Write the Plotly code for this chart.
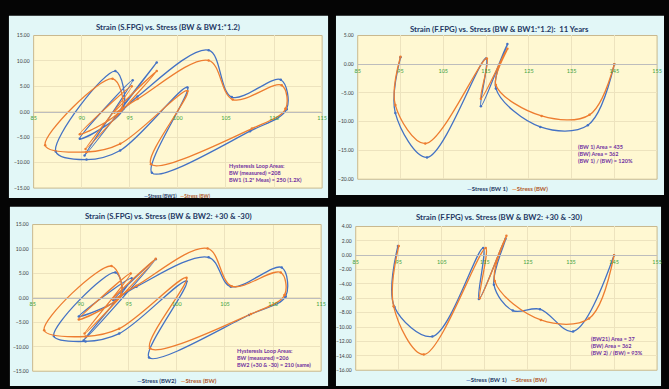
import plotly.graph_objects as go

W, H = 669, 389

# ---------------- data ----------------
stress_ticks_s = [85, 90, 95, 100, 105, 110, 115]
stress_ticks_f = [85, 95, 105, 115, 125, 135, 145, 155]

# S.FPG loop, BW1 (1.2 x measured)
s_bw1_x = [111.3, 107.5, 97.3, 101.0, 94.0, 90.5, 87.3, 93.5, 94.3, 89.8, 95.3, 90.3, 97.8, 93.5, 95.8, 103.2, 105.6, 110.7, 111.3]
s_bw1_y = [0.5, -3.8, -12.0, 4.8, -7.6, -9.4, -7.8, 8.0, 0.5, -5.3, 6.2, -8.6, 9.7, -1.0, 3.0, 12.1, 2.9, 6.3, 0.5]

# S.FPG loop, BW (measured)
s_bw_x = [111.2, 107.7, 97.2, 101.0, 94.0, 90.5, 86.2, 93.2, 94.2, 89.8, 95.2, 90.4, 97.8, 93.4, 95.8, 103.2, 105.7, 110.8, 111.2]
s_bw_y = [0.6, -3.3, -10.3, 4.1, -6.3, -7.9, -6.6, 6.5, 0.8, -4.4, 5.0, -7.3, 8.0, -0.2, 2.5, 10.1, 2.4, 5.2, 0.6]

# S.FPG loop, BW2 (+30 & -30)
s_bw2_x = [111.3, 107.5, 97.1, 101.0, 94.0, 90.5, 87.2, 93.6, 94.2, 89.8, 95.3, 90.3, 97.8, 93.4, 95.8, 103.3, 105.6, 110.9, 111.3]
s_bw2_y = [0.3, -3.5, -12.2, 3.4, -7.3, -8.9, -7.8, 5.2, 0.5, -3.8, 4.0, -8.7, 7.9, -0.5, 2.3, 8.3, 2.3, 6.2, 0.3]

# F.FPG curve, BW (measured)
f_bw_x = [95.0, 93.8, 100.8, 115.2, 113.8, 120.0, 117.3, 128.0, 139.2, 145.0]
f_bw_y = [1.3, -7.1, -13.8, 1.0, -6.0, 2.7, -3.6, -9.0, -8.8, 0.0]

# F.FPG curve, BW1 (1.2 x measured)
f_bw1_x = [95.0, 93.8, 101.2, 115.0, 113.8, 120.0, 117.3, 127.7, 138.8, 145.0]
f_bw1_y = [1.2, -8.5, -16.2, 1.0, -7.3, 3.5, -4.2, -10.9, -10.6, 0.0]

# F.FPG curve, BW2 (+30 & -30)
f_bw2_x = [94.8, 94.0, 102.8, 114.6, 113.6, 119.8, 117.1, 121.5, 127.8, 135.5, 145.0]
f_bw2_y = [1.3, -7.2, -11.3, 1.0, -6.1, 2.3, -4.1, -7.7, -7.5, -10.6, 0.0]

titles = [
    "Strain (S.FPG) vs. Stress (BW & BW1:*1.2)",
    "Strain (F.FPG) vs. Stress (BW & BW1:*1.2):  11 Years",
    "Strain (S.FPG) vs. Stress (BW & BW2: +30 & -30)",
    "Strain (F.FPG) vs. Stress (BW & BW2: +30 & -30)",
]
notes = [
    ["Hysteresis Loop Areas:", "BW (measured) =208", "BW1 (1.2* Meas) = 250 (1.2X)"],
    ["(BW 1) Area = 435", "(BW) Area = 362", "(BW 1) / (BW) = 120%"],
    ["Hysteresis Loop Areas:", "BW (measured) =206", "BW2 (+30 & -30) = 210 (same)"],
    ["(BW21) Area = 37", "(BW) Area = 362", "(BW 2) / (BW) = 93%"],
]
series_names = [
    ("Stress (BW1)", "Stress (BW)"),
    ("Stress (BW 1)", "Stress (BW)"),
    ("Stress (BW2)", "Stress (BW)"),
    ("Stress (BW 1)", "Stress (BW)"),
]

# ---------------- styling / layout ----------------
BLUE = "#4472C4"
ORANGE = "#ED7D31"
PANEL = "#E2F7F7"
PLOTBG = "#FFF8D2"
BORDER = "#C9B98E"
GRID = "#EDE3BE"
GREEN = "#3DA23D"
NAVY = "#1F3864"
PURPLE = "#7030A0"
FONT = "Lato"

# pixel boxes: panel (l, t, r, b), plot area (l, t, r, b)
boxes = [
    dict(panel=(6, 13, 329, 198), plot=(31, 33, 323, 188), title_y=24, note=(227, 173), legend_y=196, legend_size=5),
    dict(panel=(337, 13, 669, 195), plot=(359, 33, 662, 179), title_y=26, note=(580, 153), legend_y=188, legend_size=6),
    dict(panel=(7, 207, 329, 389), plot=(30, 225, 322, 374), title_y=216, note=(235, 361), legend_y=383, legend_size=6),
    dict(panel=(337, 207, 666, 389), plot=(357, 227, 662, 373), title_y=217, note=(593, 348), legend_y=382, legend_size=6),
]

panel_series = [
    ((s_bw1_x, s_bw1_y), (s_bw_x, s_bw_y), stress_ticks_s, (-15, 15), 5),
    ((f_bw1_x, f_bw1_y), (f_bw_x, f_bw_y), stress_ticks_f, (-20, 5), 5),
    ((s_bw2_x, s_bw2_y), (s_bw_x, s_bw_y), stress_ticks_s, (-15, 15), 5),
    ((f_bw2_x, f_bw2_y), (f_bw_x, f_bw_y), stress_ticks_f, (-16, 4), 2),
]

fig = go.Figure()
shapes = []
annotations = []
layout_axes = {}

for i, (box, (blue, orange, xt, yr, ydt)) in enumerate(zip(boxes, panel_series), start=1):
    xa = "x" if i == 1 else f"x{i}"
    ya = "y" if i == 1 else f"y{i}"
    pl, pt, pr, pb = box["plot"]
    xdom = [pl / W, pr / W]
    ydom = [1 - pb / H, 1 - pt / H]
    zero_pos = ydom[0] + (0 - yr[0]) / (yr[1] - yr[0]) * (ydom[1] - ydom[0])

    for (xs, ys), col, nm in ((blue, BLUE, series_names[i - 1][0]), (orange, ORANGE, series_names[i - 1][1])):
        fig.add_trace(go.Scatter(
            x=xs, y=ys, xaxis=xa, yaxis=ya, name=nm, showlegend=False,
            mode="lines+markers",
            line=dict(color=col, width=1.3, shape="spline", smoothing=1.0),
            marker=dict(color=col, size=2.5),
        ))

    layout_axes["xaxis" if i == 1 else f"xaxis{i}"] = dict(
        domain=xdom, range=[xt[0], xt[-1]], anchor="free", position=zero_pos,
        tickvals=xt, ticktext=[str(v) for v in xt], ticks="",
        tickfont=dict(size=5.5, color=GREEN, family=FONT),
        showgrid=True, gridcolor=GRID, gridwidth=0.8, zeroline=False,
        showline=True, linecolor="#BDBDBD", linewidth=1, ticklabelstandoff=1,
    )
    layout_axes["yaxis" if i == 1 else f"yaxis{i}"] = dict(
        domain=ydom, range=list(yr), anchor=xa, dtick=ydt, tick0=yr[0],
        tickformat=".2f", ticks="", tickfont=dict(size=5, color="#404040", family=FONT),
        showgrid=True, gridcolor=GRID, gridwidth=0.8, zeroline=False, showline=False,
        ticklabelstandoff=3,
    )

    l, t, r, b = box["panel"]
    shapes.append(dict(type="rect", xref="paper", yref="paper", x0=l / W, x1=r / W,
                       y0=1 - b / H, y1=1 - t / H, fillcolor=PANEL, line=dict(width=0), layer="below"))
    shapes.append(dict(type="rect", xref=f"{xa} domain", yref=f"{ya} domain", x0=0, x1=1, y0=0, y1=1,
                       fillcolor=PLOTBG, line=dict(color=BORDER, width=1), layer="below"))

    annotations.append(dict(
        text=f"<b>{titles[i - 1]}</b>", xref="paper", yref="paper",
        x=(l + r) / 2 / W, y=1 - box["title_y"] / H, xanchor="center", yanchor="middle",
        showarrow=False, font=dict(size=7.8, color=NAVY, family=FONT),
    ))
    nx, ny = box["note"]
    annotations.append(dict(
        text="<br>".join(f"<b>{s}</b>" for s in notes[i - 1]), xref="paper", yref="paper",
        x=nx / W, y=1 - ny / H, xanchor="left", yanchor="middle", align="left",
        showarrow=False, font=dict(size=5.5, color=PURPLE, family=FONT),
    ))
    na, nb = series_names[i - 1]
    annotations.append(dict(
        text=(f"<b><span style='color:{BLUE}'>\u2014</span>{na}&nbsp;&nbsp;&nbsp;"
              f"<span style='color:{ORANGE}'>\u2014</span><span style='color:#B0582A'>{nb}</span></b>"),
        xref="paper", yref="paper", x=((pl + pr) / 2) / W, y=1 - box["legend_y"] / H,
        xanchor="center", yanchor="middle", showarrow=False,
        font=dict(size=box["legend_size"], color=NAVY, family=FONT),
    ))

fig.update_layout(
    width=W, height=H, margin=dict(l=0, r=0, t=0, b=0),
    paper_bgcolor="#050505", plot_bgcolor="rgba(0,0,0,0)",
    font=dict(family=FONT),
    shapes=shapes, annotations=annotations, showlegend=False,
    **layout_axes,
)

fig.write_html("out.html")
